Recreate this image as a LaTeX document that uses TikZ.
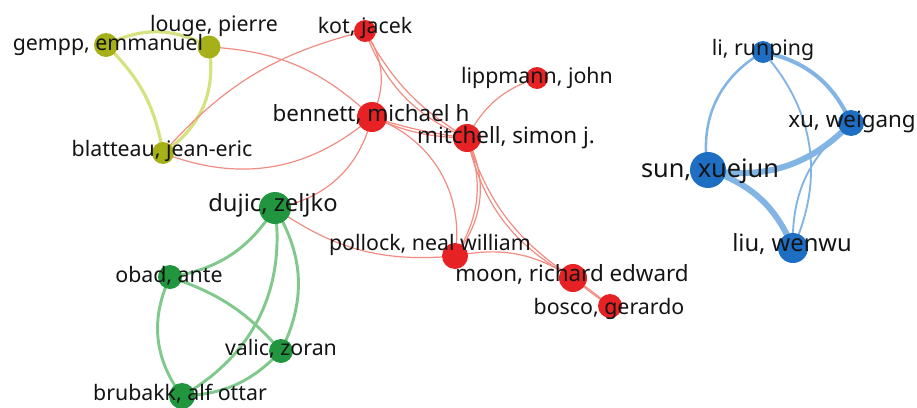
\documentclass[tikz,border=0pt]{standalone}
\usepackage{fontspec}
\setmainfont{Noto Sans}
\definecolor{ynode}{RGB}{166,176,24}
\definecolor{yedge}{RGB}{214,226,128}
\definecolor{rnode}{RGB}{230,34,36}
\definecolor{redge}{RGB}{242,140,130}
\definecolor{gnode}{RGB}{34,150,62}
\definecolor{gedge}{RGB}{128,200,140}
\definecolor{bnode}{RGB}{30,110,195}
\definecolor{bedge}{RGB}{130,180,228}
\definecolor{txt}{RGB}{20,20,20}
\tikzset{
  nd/.style={circle, inner sep=0pt, minimum size={#1*1.5pt}},
  yn/.style={nd=#1, fill=ynode},
  rn/.style={nd=#1, fill=rnode},
  gn/.style={nd=#1, fill=gnode},
  bn/.style={nd=#1, fill=bnode},
  ye/.style={draw=yedge, line width=2.4pt},
  re/.style={draw=redge, line width=0.9pt},
  ge/.style={draw=gedge, line width=2.2pt},
  be/.style={draw=bedge, line width=#1},
  lbl/.style={text=txt, inner sep=0pt, text height=0.76em, text depth=0.24em,
    font=\fontsize{#1}{#1}\selectfont},
  lbl/.default=16pt
}
\begin{document}
\begin{tikzpicture}[x=0.75pt,y=-0.75pt]
\useasboundingbox (0,0) rectangle (917,407);
% coordinates
\coordinate (gempp) at (106,45);
\coordinate (louge) at (209,47);
\coordinate (blat) at (163,153);
\coordinate (kot) at (365,31);
\coordinate (benn) at (372,117);
\coordinate (mitch) at (467,138);
\coordinate (lipp) at (537,78);
\coordinate (poll) at (455,256);
\coordinate (moon) at (573,278);
\coordinate (bosco) at (610,306);
\coordinate (dujic) at (275,208);
\coordinate (obad) at (170,277);
\coordinate (valic) at (281,351);
\coordinate (brub) at (182,396);
\coordinate (li) at (763,52);
\coordinate (xu) at (851,123);
\coordinate (sun) at (708,170);
\coordinate (liu) at (793,248);
% yellow edges
\draw[ye] (gempp) to[bend left=28] (louge);
\draw[ye] (gempp) to[bend left=18] (blat);
\draw[ye] (louge) to[bend left=33] (blat);
% red edges
\draw[re] (louge) to[bend left=20] (benn);
\draw[re] (blat) to[bend left=17] (kot);
\draw[re] (blat) to[bend right=31] (benn);
\draw[re] (benn) to[bend left=33] (dujic);
\draw[re] (kot) to[bend left=30] (benn);
\draw[re] (kot) to[bend right=23] (mitch);
\draw[re] (kot) to[bend right=15] (mitch);
\draw[re] (benn) to[bend right=5] (mitch);
\draw[re] (benn) to[bend right=11] (mitch);
\draw[re] (benn) to[bend left=40] (poll);
\draw[re] (mitch) to[bend left=22] (lipp);
\draw[re] (mitch) to[bend left=33] (poll);
\draw[re] (mitch) to[bend left=27] (poll);
\draw[re] (mitch) to[bend right=24] (moon);
\draw[re] (mitch) to[bend right=19] (moon);
\draw[re] (poll) to[bend left=22] (moon);
\draw[re] (moon) to[bend left=3] (bosco);
\draw[re] (moon) to[bend right=3] (bosco);
\draw[re] (dujic) to[bend right=20] (poll);
% green edges
\draw[ge] (dujic) to[bend left=24] (obad);
\draw[ge] (dujic) to[bend left=34] (brub);
\draw[ge] (dujic) to[bend left=29] (valic);
\draw[ge] (obad) to[bend left=15] (valic);
\draw[ge] (obad) to[bend right=31] (brub);
\draw[ge] (valic) to[bend left=22] (brub);
% blue edges
\draw[be=1.9pt] (li) to[bend right=35] (sun);
\draw[be=3pt] (li) to[bend left=27] (xu);
\draw[be=1.4pt] (li) to[bend left=33] (liu);
\draw[be=1.4pt] (xu) to[bend right=27] (liu);
\draw[be=4.5pt] (xu) to[bend left=28] (sun);
\draw[be=4.5pt] (sun) to[bend left=25] (liu);
% nodes
\node[yn=12] (gempp-n) at (gempp) {};
\node[yn=11.5] (louge-n) at (louge) {};
\node[yn=11] (blat-n) at (blat) {};
\node[rn=11] (kot-n) at (kot) {};
\node[rn=15] (benn-n) at (benn) {};
\node[rn=14] (mitch-n) at (mitch) {};
\node[rn=11] (lipp-n) at (lipp) {};
\node[rn=13] (poll-n) at (poll) {};
\node[rn=14] (moon-n) at (moon) {};
\node[rn=12] (bosco-n) at (bosco) {};
\node[gn=16] (dujic-n) at (dujic) {};
\node[gn=12] (obad-n) at (obad) {};
\node[gn=12] (valic-n) at (valic) {};
\node[gn=13] (brub-n) at (brub) {};
\node[bn=11] (li-n) at (li) {};
\node[bn=13] (xu-n) at (xu) {};
\node[bn=18] (sun-n) at (sun) {};
\node[bn=15] (liu-n) at (liu) {};
% labels
\node[lbl] (gempp-t) at (108,47) {gempp, emmanuel};
\node[lbl] (louge-t) at (214,28) {louge, pierre};
\node[lbl] (blat-t) at (162,153) {blatteau, jean-eric};
\node[lbl] (kot-t) at (365,30) {kot, jacek};
\node[lbl=16.8pt] (benn-t) at (371,118) {bennett, michael h};
\node[lbl=16.8pt] (mitch-t) at (506,140) {mitchell, simon j.};
\node[lbl] (lipp-t) at (537,80) {lippmann, john};
\node[lbl] (poll-t) at (430,247) {pollock, neal william};
\node[lbl=16.8pt] (moon-t) at (572,278) {moon, richard edward};
\node[lbl] (bosco-t) at (609,311) {bosco, gerardo};
\node[lbl=17.8pt] (dujic-t) at (273,208) {dujic, zeljko};
\node[lbl] (obad-t) at (169,279) {obad, ante};
\node[lbl] (valic-t) at (281,352) {valic, zoran};
\node[lbl] (brub-t) at (180,397) {brubakk, alf ottar};
\node[lbl] (li-t) at (763,52) {li, runping};
\node[lbl=16.8pt] (xu-t) at (852,124) {xu, weigang};
\node[lbl=19pt] (sun-t) at (710,174) {sun, xuejun};
\node[lbl=17.8pt] (liu-t) at (792,248) {liu, wenwu};
\end{tikzpicture}
\end{document}
